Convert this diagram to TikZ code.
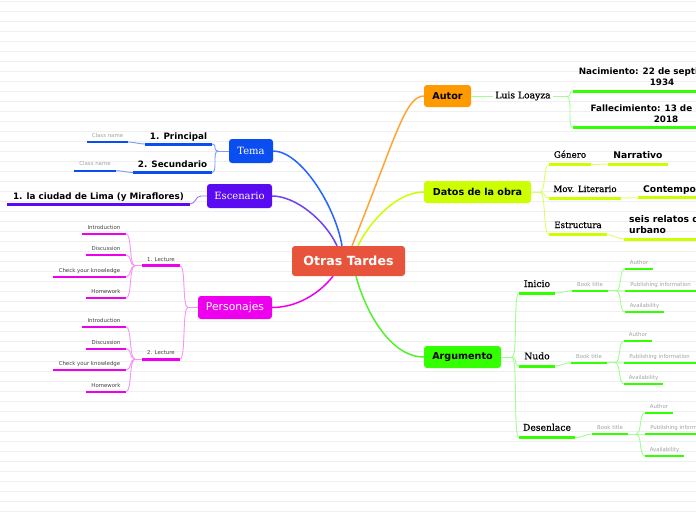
\documentclass[tikz,border=0pt]{standalone}
\usepackage{fontspec}
\setmainfont{DejaVu Serif}
\setsansfont{DejaVu Sans}
\newfontfamily\serifmed{DejaVu Serif}[FakeBold=0.7]
\usetikzlibrary{calc}
\definecolor{cMain}{HTML}{E8543B}
\definecolor{cBlue}{HTML}{0A4EF2}
\definecolor{cBlueL}{HTML}{7A9CF7}
\definecolor{cBlueC}{HTML}{2266FF}
\definecolor{cPur}{HTML}{5B0BF2}
\definecolor{cPurL}{HTML}{9A75F7}
\definecolor{cPurC}{HTML}{7040F5}
\definecolor{cMag}{HTML}{EE00EE}
\definecolor{cMagL}{HTML}{F594F5}
\definecolor{cOra}{HTML}{FF9900}
\definecolor{cOraC}{HTML}{FFA535}
\definecolor{cYel}{HTML}{CCFF00}
\definecolor{cYelL}{HTML}{DDFF66}
\definecolor{cGrn}{HTML}{33FF00}
\definecolor{cGrnL}{HTML}{A0FF90}
\definecolor{cGrnC}{HTML}{55F030}
\definecolor{cBg}{HTML}{EFEFEF}
\definecolor{cGrey}{HTML}{A3A3A3}
\definecolor{cDark}{HTML}{444444}
\newcommand\fntMain{\sffamily\bfseries\fontsize{12.6}{14}\selectfont}
\newcommand\fntOne{\sffamily\bfseries\fontsize{9.6}{11}\selectfont}
\newcommand\fntTwo{\sffamily\bfseries\fontsize{8.8}{11}\selectfont}
\newcommand\fntThr{\sffamily\bfseries\fontsize{9.2}{11}\selectfont}
\newcommand\fntSer{\serifmed\fontsize{9.2}{11}\selectfont}
\newcommand\fntSerS{\serifmed\fontsize{8.7}{11}\selectfont}
\newcommand\fntWhSer{\rmfamily\fontsize{10}{12}\selectfont}
\newcommand\fntWhSans{\sffamily\fontsize{10.8}{12}\selectfont}
\newcommand\fntTiny{\sffamily\fontsize{5.4}{6.5}\selectfont}
\begin{document}
\begin{tikzpicture}[x=1pt,y=-1pt,
  box/.style={rectangle, rounded corners=3pt, inner sep=0pt, align=center},
  ul/.style={rectangle, inner sep=0pt, outer sep=0pt, minimum height=3pt},
  uls/.style={rectangle, inner sep=0pt, outer sep=0pt, minimum height=2.4pt},
  lbl/.style={inner sep=0pt, anchor=base},
  tiny/.style={lbl, font=\fntTiny, text=cGrey},
  tinyd/.style={lbl, font=\fntTiny, text=cDark},
  thin/.style={line width=0.9pt},
  lft/.style={out=180, in=0, distance=6pt},
  rgt/.style={out=0, in=180, distance=6pt},
  main/.style={line width=1.5pt},
  bgline/.style={cBg, line width=0.6pt}]
\useasboundingbox (0,0) rectangle (696,520);
\clip (0,0) rectangle (696,520);
\fill[white] (0,0) rectangle (696,520);
\foreach \k in {0,...,51} \draw[bgline] (0,{1+10*\k}) -- (696,{1+10*\k});

% ---------- central and first level boxes
\node[box, fill=cMain, minimum width=113pt, minimum height=30pt, text=white, font=\fntMain] (ot) at (348.5,261) {Otras Tardes};
\node[box, fill=cBlue, minimum width=44pt, minimum height=24pt, text=white, font=\fntWhSer] (tema) at (251,151) {Tema};
\node[box, fill=cPur, minimum width=65pt, minimum height=24pt, text=white, font=\fntWhSer] (esc) at (239.5,196) {Escenario};
\node[box, fill=cMag, minimum width=74pt, minimum height=23pt, text=white, font=\fntWhSans] (pers) at (235,307.5) {Personajes};
\node[box, fill=cOra, minimum width=47pt, minimum height=22pt, font=\fntOne] (autor) at (447.5,96) {Autor};
\node[box, fill=cYel, minimum width=107pt, minimum height=22pt, font=\fntOne] (datos) at (477.5,192) {Datos de la obra};
\node[box, fill=cGrn, minimum width=77pt, minimum height=22pt, font=\fntOne] (arg) at (462.5,357) {Argumento};

\draw[main, cBlueC] ([xshift=-6.5pt]ot.north) .. controls +(-7,-41) and +(27,0) .. (tema.east);
\draw[main, cPurC] ([xshift=-11.5pt]ot.north) .. controls +(-12,-26) and +(23,0) .. (esc.east);
\draw[main, cOraC] ([xshift=3.5pt]ot.north) .. controls +(43,-106) and +(-19,0) .. (autor.west);
\draw[main, cYel] ([xshift=9.5pt]ot.north) .. controls +(10,-21) and +(-29,0) .. (datos.west);
\draw[main, cMag] ([xshift=-15.5pt]ot.south) .. controls +(-15,19) and +(23,0) .. (pers.east);
\draw[main, cGrnC] ([xshift=7.5pt]ot.south) .. controls +(9,34) and +(-34,0) .. (arg.west);

% ---------- Tema
\node[ul, fill=cBlue, minimum width=67pt] (pr) at (178.5,144) {};
\node[ul, fill=cBlue, minimum width=79pt] (se) at (172.5,172.5) {};
\node[uls, fill=cBlue, minimum width=41pt] (cn1) at (107.5,142) {};
\node[uls, fill=cBlue, minimum width=42pt] (cn2) at (95,170.7) {};
\node[lbl, font=\fntTwo] (prt) at (178.5,139) {1. Principal};
\node[lbl, font=\fntTwo] (set) at (172.5,167.5) {2. Secundario};
\node[tiny] (cn1t) at (107.5,137) {Class name};
\node[tiny] (cn2t) at (95,165.7) {Class name};
\coordinate (tsp) at (218,151);
\draw[thin, cBlueL] (tema.west) -- (tsp);
\draw[thin, cBlueL] (tsp) to[lft] (pr.east);
\draw[thin, cBlueL] (tsp) to[lft] (se.east);
\draw[thin, cBlueL] (pr.west) to[lft] (cn1.east);
\draw[thin, cBlueL] (se.west) to[lft] (cn2.east);

% ---------- Escenario
\node[ul, fill=cPur, minimum width=183pt] (lima) at (98.5,204) {};
\node[lbl, font=\fntTwo] (limat) at (98.5,199) {1. la ciudad de Lima (y Miraflores)};
\coordinate (esp) at (201,196);
\draw[thin, cPurL] (esc.west) -- (esp) to[lft] (lima.east);

% ---------- Personajes
\node[ul, fill=cMag, minimum width=38pt] (l1) at (161,265.7) {};
\node[ul, fill=cMag, minimum width=38pt] (l2) at (161,359) {};
\node[tinyd] (l1t) at (161,261) {1. Lecture};
\node[tinyd] (l2t) at (161,354.3) {2. Lecture};
\coordinate (psp) at (188,307.5);
\draw[thin, cMagL] (pers.west) -- (psp);
\draw[thin, cMagL] (psp) to[lft] (l1.east);
\draw[thin, cMagL] (psp) to[lft] (l2.east);
\node[uls, fill=cMag, minimum width=44pt] (i1) at (104,233.7) {};
\node[uls, fill=cMag, minimum width=40pt] (d1) at (106,255) {};
\node[uls, fill=cMag, minimum width=73pt] (c1) at (89.5,276.7) {};
\node[uls, fill=cMag, minimum width=40pt] (h1) at (106,298) {};
\node[uls, fill=cMag, minimum width=44pt] (i2) at (104,327) {};
\node[uls, fill=cMag, minimum width=40pt] (d2) at (106,348.7) {};
\node[uls, fill=cMag, minimum width=73pt] (c2) at (89.5,370) {};
\node[uls, fill=cMag, minimum width=40pt] (h2) at (106,391.7) {};
\node[tinyd] (i1t) at (104,229) {Introduction};
\node[tinyd] (d1t) at (106,250.3) {Discussion};
\node[tinyd] (c1t) at (89.5,272) {Check your knowledge};
\node[tinyd] (h1t) at (106,293.3) {Homework};
\node[tinyd] (i2t) at (104,322.3) {Introduction};
\node[tinyd] (d2t) at (106,344) {Discussion};
\node[tinyd] (c2t) at (89.5,365.3) {Check your knowledge};
\node[tinyd] (h2t) at (106,387) {Homework};
\coordinate (l1sp) at (135,265.7);
\coordinate (l2sp) at (135,359);
\draw[thin, cMagL] (l1.west) -- (l1sp);
\draw[thin, cMagL] (l2.west) -- (l2sp);
\foreach \n in {i1,d1,c1,h1} \draw[thin, cMagL] (l1sp) to[lft] (\n.east);
\foreach \n in {i2,d2,c2,h2} \draw[thin, cMagL] (l2sp) to[lft] (\n.east);

% ---------- Autor
\node[inner sep=2pt, font=\fntSer] (ll) at (523,96) {Luis Loayza};
\coordinate (llsp) at (567,96.5);
\draw[thin, cGrnL] (autor.east) -- (autor.east -| ll.west);
\draw[thin, cGrnL] (llsp -| ll.east) -- (llsp);
\node[ul, fill=cGrn, minimum width=187pt] (na) at (666.5,91.7) {};
\node[ul, fill=cGrn, minimum width=197pt] (fa) at (671.5,127.7) {};
\node[inner sep=0pt, anchor=north, align=center, font=\fntTwo] (nat) at (662,67.6) {Nacimiento: 22 de septiembre de\\1934};
\node[inner sep=0pt, anchor=north, align=center, font=\fntTwo] (fat) at (666,104.6) {Fallecimiento: 13 de marzo de\\2018};
\draw[thin, cGrnL] (llsp) to[rgt] (na.west);
\draw[thin, cGrnL] (llsp) to[rgt] (fa.west);

% ---------- Datos de la obra
\node[ul, fill=cYel, minimum width=42pt] (ge) at (570,164.7) {};
\node[ul, fill=cYel, minimum width=60pt] (nr) at (638,164) {};
\node[ul, fill=cYel, minimum width=72pt] (mo) at (585,198) {};
\node[ul, fill=cYel, minimum width=142pt] (co) at (709,197.7) {};
\node[ul, fill=cYel, minimum width=58pt] (es) at (578,234.7) {};
\node[ul, fill=cYel, minimum width=156pt] (sr) at (702,239) {};
\node[lbl, font=\fntSerS] (get) at (570,157.7) {Género};
\node[lbl, font=\fntThr] (nrt) at (638,158) {Narrativo};
\node[lbl, font=\fntSerS] (mot) at (585,192) {Mov. Literario};
\node[lbl, font=\fntThr, anchor=base west] (cot) at (643,192) {Contemporáneo};
\node[lbl, font=\fntSerS] (est) at (578,228) {Estructura};
\node[inner sep=0pt, anchor=north west, align=left, font=\fntThr] (srt) at (629,214.9) {seis relatos de ambiente\\urbano};
\coordinate (dsp) at (540,192);
\draw[thin, cYelL] (datos.east) -- (dsp);
\foreach \n in {ge,mo,es} \draw[thin, cYelL] (dsp) to[rgt] (\n.west);
\draw[thin, cYelL] (ge.east) to[rgt] (nr.west);
\draw[thin, cYelL] (mo.east) to[rgt] (co.west);
\draw[thin, cYelL] (es.east) to[rgt] (sr.west);

% ---------- Argumento
\node[ul, fill=cGrn, minimum width=36pt] (ini) at (537,293) {};
\node[ul, fill=cGrn, minimum width=36pt] (nu) at (537,366) {};
\node[ul, fill=cGrn, minimum width=56pt] (de) at (547,437.7) {};
\node[lbl, font=\fntSer] (init) at (537,287) {Inicio};
\node[lbl, font=\fntSer] (nut) at (537,359.3) {Nudo};
\node[lbl, font=\fntSer] (det) at (547,430.7) {Desenlace};
\coordinate (asp) at (512,357);
\draw[thin, cGrnL] (arg.east) -- (asp);
\foreach \n in {ini,nu,de} \draw[thin, cGrnL] (asp) to[rgt] (\n.west);

\node[uls, fill=cGrn, minimum width=36pt] (bt1) at (590,290.7) {};
\node[uls, fill=cGrn, minimum width=28pt] (au1) at (639,269) {};
\node[uls, fill=cGrn, minimum width=71pt] (pu1) at (660.5,291) {};
\node[uls, fill=cGrn, minimum width=39pt] (av1) at (644.5,312) {};
\node[tiny] (bt1t) at (590,286) {Book title};
\node[tiny] (au1t) at (639,264) {Author};
\node[tiny] (pu1t) at (660.5,286) {Publishing information};
\node[tiny] (av1t) at (644.5,307) {Availability};
\coordinate (s1) at (616,290.7);
\draw[thin, cGrnL] (ini.east) to[rgt] (bt1.west);
\draw[thin, cGrnL] (bt1.east) -- (s1);
\foreach \n in {au1,pu1,av1} \draw[thin, cGrnL] (s1) to[rgt] (\n.west);

\node[uls, fill=cGrn, minimum width=36pt] (bt2) at (589,362.7) {};
\node[uls, fill=cGrn, minimum width=28pt] (au2) at (638,341) {};
\node[uls, fill=cGrn, minimum width=72pt] (pu2) at (660,363) {};
\node[uls, fill=cGrn, minimum width=39pt] (av2) at (643.5,384) {};
\node[tiny] (bt2t) at (589,358) {Book title};
\node[tiny] (au2t) at (638,336) {Author};
\node[tiny] (pu2t) at (659.5,358) {Publishing information};
\node[tiny] (av2t) at (643.5,379) {Availability};
\coordinate (s2) at (615,362.7);
\draw[thin, cGrnL] (nu.east) to[rgt] (bt2.west);
\draw[thin, cGrnL] (bt2.east) -- (s2);
\foreach \n in {au2,pu2,av2} \draw[thin, cGrnL] (s2) to[rgt] (\n.west);

\node[uls, fill=cGrn, minimum width=36pt] (bt3) at (610,434) {};
\node[uls, fill=cGrn, minimum width=28pt] (au3) at (659,412.7) {};
\node[uls, fill=cGrn, minimum width=74pt] (pu3) at (682,434) {};
\node[uls, fill=cGrn, minimum width=39pt] (av3) at (664.5,456) {};
\node[tiny] (bt3t) at (610,429.3) {Book title};
\node[tiny] (au3t) at (659,408) {Author};
\node[tiny] (pu3t) at (680.5,429.3) {Publishing information};
\node[tiny] (av3t) at (664.5,451) {Availability};
\coordinate (s3) at (636,434);
\draw[thin, cGrnL] (de.east) to[rgt] (bt3.west);
\draw[thin, cGrnL] (bt3.east) -- (s3);
\foreach \n in {au3,pu3,av3} \draw[thin, cGrnL] (s3) to[rgt] (\n.west);
\end{tikzpicture}
\end{document}
